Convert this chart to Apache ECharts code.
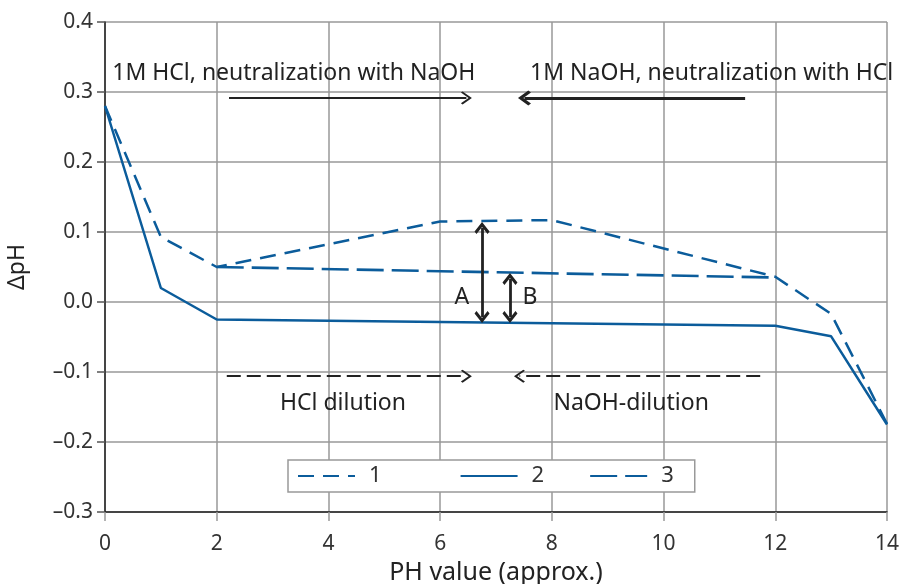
<!DOCTYPE html>
<html>
<head>
<meta charset="utf-8">
<script src="https://cdn.jsdelivr.net/npm/echarts@6/dist/echarts.min.js"></script>
<style>
  html, body { margin: 0; padding: 0; background: #fff; }
  #chart { width: 903px; height: 584px; }
</style>
</head>
<body>
<div id="chart"></div>
<script>
// 曲線資料 (pH, ΔpH)
var curve1 = [[0, 0.28], [1, 0.093], [2, 0.05], [6, 0.115], [8, 0.117], [12, 0.036], [13, -0.017], [14, -0.174]];
var curve2 = [[0, 0.28], [1, 0.02], [2, -0.025], [12, -0.034], [13, -0.049], [14, -0.175]];
var curve3 = [[2, 0.05], [12, 0.035]];
var seriesNames = ['1', '2', '3'];

var blue = '#0b5c9b';
var ink = '#222';
var font = 'Noto Sans';

// 開口箭頭 (朝上)
var thinHead = 'path://M10,0 L20,10 L18.2,11.8 L10,3.6 L1.8,11.8 L0,10 Z';
var thickHead = 'path://M10,0 L20,10 L17.4,12.6 L10,5.2 L2.6,12.6 L0,10 Z';

var chart = echarts.init(document.getElementById('chart'));

var option = {
    animation: false,
    grid: { left: 105, right: 16, top: 22, bottom: 72, outerBoundsMode: 'none', containLabel: false },
    legend: {
        data: seriesNames,
        left: 288,
        top: 460,
        padding: [5, 21, 5, 9],
        itemWidth: 57,
        itemHeight: 14,
        itemGap: 45,
        backgroundColor: '#fff',
        borderColor: '#999',
        borderWidth: 1.5,
        borderRadius: 0,
        itemStyle: { color: 'rgba(0,0,0,0)', borderWidth: 0 },
        formatter: function (name) {
            // 第一項後面留較寬的空白
            return name === seriesNames[0] ? name + '\u2003\u2002' : name;
        },
        textStyle: { fontSize: 22, color: '#333', fontFamily: font, padding: [0, 0, 0, 9] }
    },
    xAxis: {
        type: 'value',
        min: 0,
        max: 14,
        interval: 2,
        name: 'PH value (approx.)',
        nameLocation: 'middle',
        nameGap: 48,
        nameTextStyle: { fontSize: 25, color: '#222', fontFamily: font },
        axisLine: { onZero: false, lineStyle: { color: '#222', width: 1.5 } },
        axisTick: { show: true, length: 9, lineStyle: { color: '#999', width: 1.5 } },
        axisLabel: { fontSize: 21, color: '#333', fontFamily: font, margin: 22 },
        splitLine: { lineStyle: { color: '#999', width: 1.5 } }
    },
    yAxis: {
        type: 'value',
        min: -0.3,
        max: 0.4,
        interval: 0.1,
        name: 'ΔpH',
        nameLocation: 'middle',
        nameGap: 76,
        nameTextStyle: { fontSize: 23, color: '#222', fontFamily: font },
        axisLine: { show: true, onZero: false, lineStyle: { color: '#222', width: 1.5 } },
        axisTick: { show: true, length: 8, lineStyle: { color: '#555', width: 1.5 } },
        axisLabel: {
            fontSize: 21, color: '#333', fontFamily: font, margin: 12,
            formatter: function (v) {
                var r = Math.round(v * 10) / 10;
                return r < 0 ? '–' + Math.abs(r).toFixed(1) : r.toFixed(1);
            }
        },
        splitLine: { lineStyle: { color: '#999', width: 1.5 } }
    },
    series: [
        {
            name: seriesNames[0],
            type: 'line',
            data: curve1,
            symbol: 'none',
            lineStyle: { color: blue, width: 2.5, type: [16, 9] },
            itemStyle: { color: blue },
            z: 3
        },
        {
            name: seriesNames[1],
            type: 'line',
            data: curve2,
            symbol: 'none',
            lineStyle: { color: blue, width: 2.5, type: 'solid' },
            itemStyle: { color: blue },
            z: 3
        },
        {
            name: seriesNames[2],
            type: 'line',
            data: curve3,
            symbol: 'none',
            lineStyle: { color: blue, width: 2.6, type: [27, 8] },
            itemStyle: { color: blue },
            z: 3
        },
        {
            // 註解：箭頭與文字
            name: 'notes',
            type: 'line',
            data: [],
            silent: true,
            markLine: {
                silent: true,
                animation: false,
                label: { show: false },
                emphasis: { disabled: true },
                data: [
                    [{ coord: [2.22, 0.2915], symbol: 'none', lineStyle: { color: ink, width: 2, type: 'solid' } },
                     { coord: [6.47, 0.2915], symbol: thinHead, symbolSize: [13, 11] }],
                    [{ coord: [11.46, 0.2915], symbol: 'none', lineStyle: { color: ink, width: 3.2, type: 'solid' } },
                     { coord: [7.51, 0.2915], symbol: thickHead, symbolSize: [15, 13] }],
                    [{ coord: [2.18, -0.106], symbol: 'none', lineStyle: { color: ink, width: 1.8, type: [14, 6] } },
                     { coord: [6.47, -0.106], symbol: thinHead, symbolSize: [13, 11] }],
                    [{ coord: [11.73, -0.106], symbol: 'none', lineStyle: { color: ink, width: 1.8, type: [14, 6] } },
                     { coord: [7.42, -0.106], symbol: thinHead, symbolSize: [13, 11] }],
                    [{ coord: [6.75, -0.0214], symbol: thickHead, symbolSize: [15, 12], lineStyle: { color: ink, width: 2.8, type: 'solid' } },
                     { coord: [6.75, 0.1057], symbol: thickHead, symbolSize: [15, 12] }],
                    [{ coord: [7.25, -0.0214], symbol: thickHead, symbolSize: [15, 12], lineStyle: { color: ink, width: 2.8, type: 'solid' } },
                     { coord: [7.25, 0.0329], symbol: thickHead, symbolSize: [15, 12] }]
                ]
            },
            markPoint: {
                silent: true,
                animation: false,
                symbol: 'circle',
                symbolSize: 1,
                itemStyle: { color: 'rgba(0,0,0,0)' },
                label: { show: true, position: 'inside', fontSize: 23, color: ink, fontFamily: font },
                data: [
                    { coord: [3.38, 0.326], value: '1M HCl, neutralization with NaOH' },
                    { coord: [10.86, 0.326], value: '1M NaOH, neutralization with HCl' },
                    { coord: [4.26, -0.145], value: 'HCl dilution' },
                    { coord: [9.42, -0.145], value: 'NaOH-dilution' },
                    { coord: [6.39, 0.006], value: 'A' },
                    { coord: [7.61, 0.006], value: 'B' }
                ]
            }
        }
    ]
};

chart.setOption(option);
</script>
</body>
</html>
